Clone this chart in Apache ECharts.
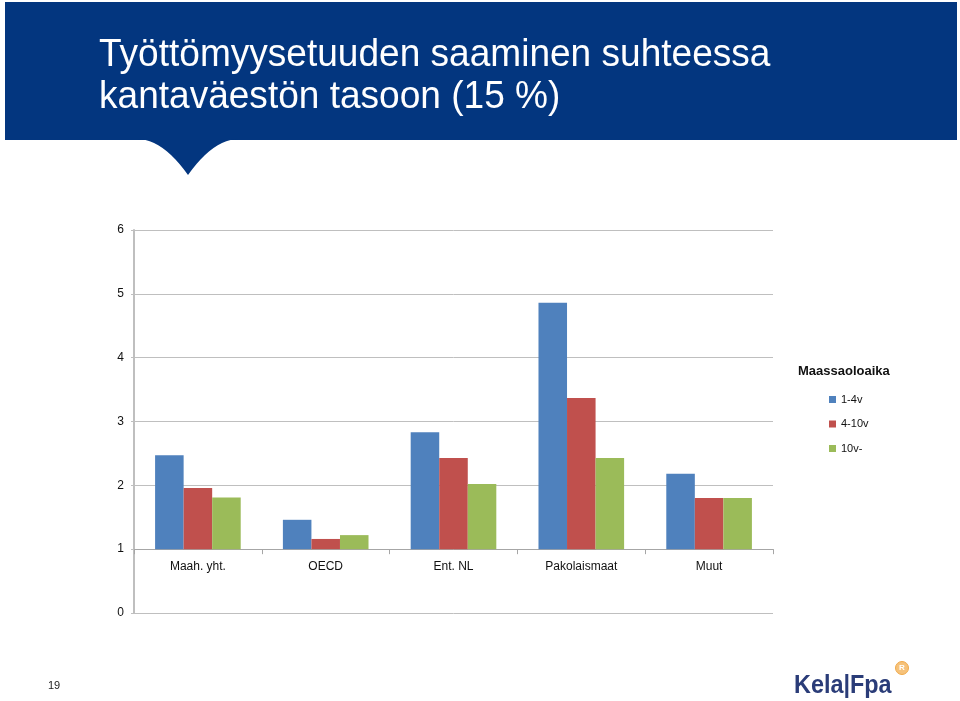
<!DOCTYPE html>
<html><head><meta charset="utf-8">
<script src="https://cdn.jsdelivr.net/npm/echarts@6/dist/echarts.min.js"></script>
<style>html,body{margin:0;padding:0;background:#fff}#c{width:960px;height:701px}</style>
</head><body><div id="c"></div>
<script>
const categories = ['Maah. yht.', 'OECD', 'Ent. NL', 'Pakolaismaat', 'Muut'];
const seriesNames = ['1-4v', '4-10v', '10v-'];
const s1_4 = [2.47, 1.46, 2.83, 4.86, 2.18];
const s4_10 = [1.96, 1.16, 2.43, 3.37, 1.80];
const s10 = [1.81, 1.22, 2.02, 2.43, 1.80];
const yTicks = [0, 1, 2, 3, 4, 5, 6];
const colors = ['#4F81BD', '#C0504D', '#9BBB59'];

const chart = echarts.init(document.getElementById('c'), null, {renderer: 'canvas'});
const gridTop = 230, gridBottom = 88, unitPx = (701 - gridTop - gridBottom) / (yTicks.length - 1);
const font = 'Liberation Sans, Arial, sans-serif';
const mkSeries = (name, data, i) => ({
  name, type: 'bar', data, barGap: '0%', barCategoryGap: '33%',
  itemStyle: {color: colors[i]}
});
// pointer notch of the title banner
const notch = [];
for (let i = 0; i <= 12; i++) { const t = i / 12; notch.push([137 + 51 * t, 139 + 36 * Math.pow(t, 2.0)]); }
for (let i = 12; i >= 0; i--) { const t = i / 12; notch.push([239 - 51 * t, 139 + 36 * Math.pow(t, 2.0)]); }
chart.setOption({
  animation: false,
  textStyle: {fontFamily: font},
  grid: {left: 134, right: 187, top: gridTop, bottom: gridBottom, containLabel: false},
  xAxis: {
    type: 'category', data: categories, offset: -unitPx,
    axisLine: {show: true, lineStyle: {color: '#A6A6A6', width: 1}},
    axisTick: {show: true, alignWithLabel: false, length: 5, lineStyle: {color: '#A6A6A6'}},
    axisLabel: {color: '#111', fontSize: 12, margin: 12, fontFamily: font}
  },
  yAxis: {
    type: 'value', min: 0, max: 6, interval: 1, startValue: 1,
    axisLine: {show: true, lineStyle: {color: '#BFBFBF', width: 2}},
    axisTick: {show: true, length: 3, lineStyle: {color: '#BFBFBF'}},
    splitLine: {show: true, lineStyle: {color: '#BFBFBF', width: 1}},
    axisLabel: {color: '#111', fontSize: 12, margin: 10, fontFamily: font}
  },
  legend: {
    show: true, orient: 'vertical', left: 824, top: 389, itemWidth: 7, itemHeight: 7,
    itemGap: 13.5, icon: 'rect',
    textStyle: {fontSize: 11, color: '#111', fontFamily: font},
    data: seriesNames
  },
  graphic: [
    {type: 'rect', shape: {x: 5, y: 2, width: 952, height: 138}, style: {fill: '#03367F'}, silent: true},
    {type: 'polygon', shape: {points: notch}, style: {fill: '#03367F'}, silent: true},
    {type: 'text', x: 99, y: 34, scaleX: 0.95, style: {text: 'Työttömyysetuuden saaminen suhteessa\nkantaväestön tasoon (15 %)', fill: '#fff', font: '39px Liberation Sans, Arial, sans-serif', lineHeight: 42}},
    {type: 'text', x: 798, y: 365, style: {text: 'Maassaoloaika', fill: '#111', font: 'bold 13px Liberation Sans, Arial, sans-serif'}},
    {type: 'text', x: 48, y: 680, style: {text: '19', fill: '#222', font: '11px Liberation Sans, Arial, sans-serif'}},
    {type: 'text', x: 794, y: 673, scaleX: 0.9, style: {text: 'Kela|Fpa', fill: '#2A3C78', font: 'bold 26px Liberation Sans, Arial, sans-serif'}},
    {type: 'circle', shape: {cx: 902, cy: 668, r: 6.5}, style: {fill: '#F6C27A', stroke: '#EFA94A', lineWidth: 1}},
    {type: 'text', x: 902, y: 668, style: {text: 'R', fill: '#fff', font: 'bold 8px Liberation Sans, Arial, sans-serif', align: 'center', verticalAlign: 'middle'}}
  ],
  series: [mkSeries(seriesNames[0], s1_4, 0), mkSeries(seriesNames[1], s4_10, 1), mkSeries(seriesNames[2], s10, 2)]
});
</script></body></html>
